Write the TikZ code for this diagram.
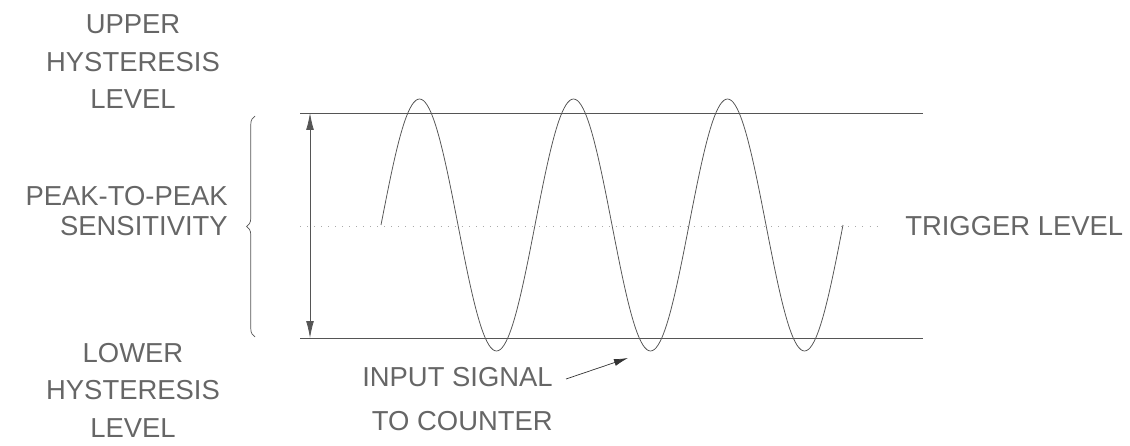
\documentclass[tikz,border=0pt]{standalone}
\usepackage{fontspec}
\setmainfont{Liberation Sans}
\usetikzlibrary{arrows.meta,positioning,decorations.pathreplacing}
\definecolor{inkgray}{HTML}{555555}
\definecolor{dotgray}{HTML}{AAAAAA}
\tikzset{
  lbl/.style={inner sep=0pt, text=black!60, font=\fontsize{19.5}{26.7}\selectfont},
  hyst/.style={draw=inkgray, line width=0.7pt},
  trig/.style={draw=dotgray, line width=0.7pt, dash pattern=on 0.7pt off 4.3pt},
  wave/.style={draw=inkgray, line width=0.55pt},
  dimarr/.style={{Latex[length=12pt,width=5.5pt]}-{Latex[length=12pt,width=5.5pt]}, draw=inkgray, line width=0.55pt},
  ptr/.style={-{Latex[length=10pt,width=5pt]}, draw=black!80, line width=0.5pt},
}

\begin{document}
\begin{tikzpicture}[x=0.025cm, y=-0.025cm]
    \useasboundingbox (0,0) rectangle (1130,446);
    % hysteresis band and trigger level
    \coordinate (uL) at (300,113); \coordinate (uR) at (923,113);
    \coordinate (lL) at (300,338); \coordinate (lR) at (923,338);
    \coordinate (tL) at (300,226); \coordinate (tR) at (882,226);
    \draw[hyst] (uL) -- (uR);
    \draw[hyst] (lL) -- (lR);
    \draw[trig] (tL) -- (tR);
    % input signal, three periods
    \draw[wave] plot[domain=381:843, samples=241, smooth] (\x, {225-126*sin((\x-381)/154*360)});
    % peak-to-peak span
    \coordinate (spanT) at (310,113); \coordinate (spanB) at (310,338);
    \draw[dimarr] (spanB) -- (spanT);
    \coordinate (brB) at (255,337); \coordinate (brT) at (255,116);
    \draw[inkgray, line width=0.5pt, decorate, decoration={brace, amplitude=6pt}] (brB) -- (brT);
    % labels
    \node[lbl, align=center] (upper) at (133,62) {UPPER\\HYSTERESIS\\LEVEL};
    \node[lbl, align=right, anchor=east, font=\fontsize{19.5}{21.3}\selectfont] (ptp) at (228,211) {PEAK-TO-PEAK\\SENSITIVITY};
    \node[lbl, align=center] (lower) at (133,390) {LOWER\\HYSTERESIS\\LEVEL};
    \node[lbl, anchor=west] (trigger) at (905,226) {TRIGGER LEVEL};
    \node[lbl, align=right, anchor=east, font=\fontsize{19.5}{31}\selectfont] (input) at (553,399) {INPUT SIGNAL\\TO COUNTER};
    \coordinate (sigtail) at (566,379); \coordinate (sigtip) at (628,358);
    \draw[ptr] (sigtail) -- (sigtip);
\end{tikzpicture}
\end{document}
